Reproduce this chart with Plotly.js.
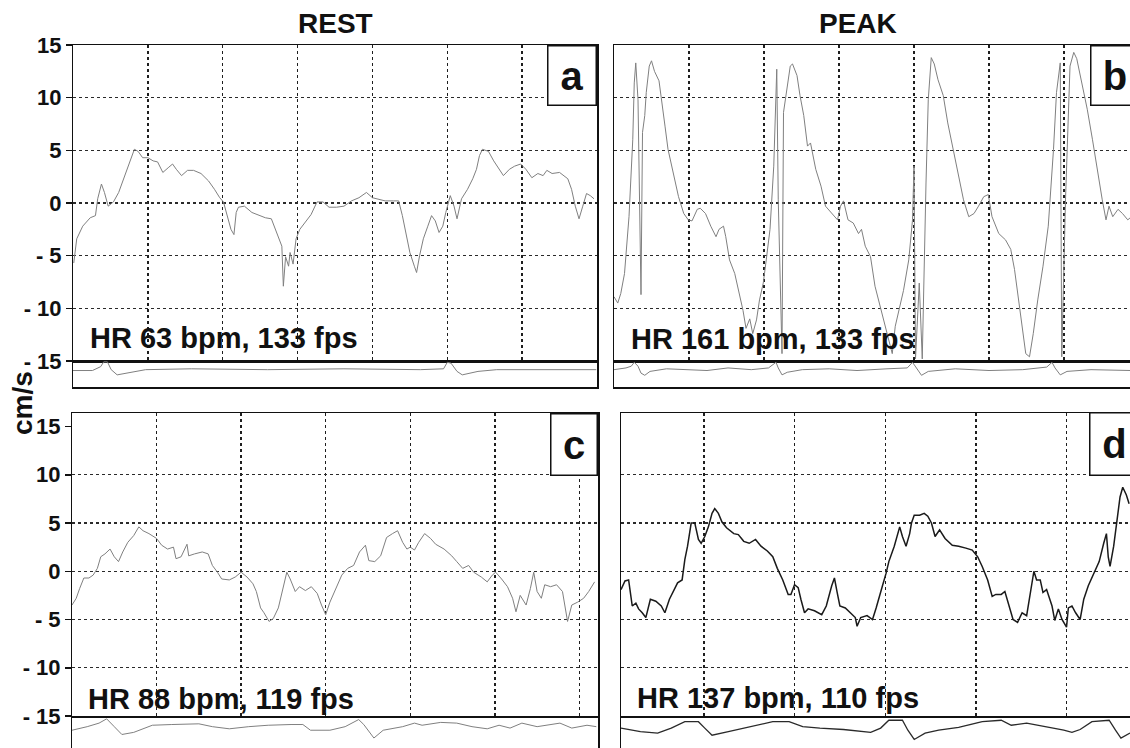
<!DOCTYPE html>
<html><head><meta charset="utf-8">
<script src="https://cdn.plot.ly/plotly-3.0.1.min.js"></script>
<style>html,body{margin:0;padding:0;background:#fff;overflow:hidden;} #chart{width:1130px;height:748px;}</style>
</head><body><div id="chart"></div>
<script>
// ---------------- data ----------------
const columnTitles = ['REST', 'PEAK'];
const panelLetters = ['a', 'b', 'c', 'd'];
const hrLabels = ['HR 63 bpm, 133 fps', 'HR 161 bpm, 133 fps', 'HR 88 bpm, 119 fps', 'HR 137 bpm, 110 fps'];
const yAxisTitle = 'cm/s';
const velocityTicks = [15, 10, 5, 0, -5, -10, -15];
const velocityTickText = ['15', '10', '5', '0', '- 5', '- 10', '- 15'];
const gridValues = [-10, -5, 0, 5, 10];

// panel a (rest, 63 bpm) - time in grid divisions, velocity in cm/s
const restA_t = [0.01,0.05,0.13,0.23,0.30,0.33,0.38,0.42,0.47,0.54,0.61,0.69,0.77,0.82,0.87,0.93,1.0,1.07,1.13,1.20,1.28,1.33,1.38,1.45,1.53,1.61,1.71,1.81,1.89,1.96,2.01,2.06,2.11,2.15,2.18,2.21,2.29,2.39,2.49,2.57,2.65,2.70,2.75,2.79,2.81,2.84,2.88,2.90,2.94,2.98,3.03,3.11,3.18,3.26,3.34,3.42,3.52,3.62,3.72,3.82,3.92,4.0,4.07,4.17,4.28,4.35,4.40,4.45,4.50,4.56,4.59,4.63,4.68,4.74,4.79,4.84,4.89,4.94,4.98,5.04,5.09,5.13,5.19,5.27,5.34,5.39,5.43,5.47,5.55,5.62,5.70,5.75,5.83,5.90,5.98,6.05,6.13,6.21,6.28,6.33,6.40,6.50,6.61,6.66,6.71,6.76,6.81,6.86,6.91,6.96];
const restA_v = [-5.7,-3.4,-2.2,-1.4,-1.2,0.4,1.8,1.0,-0.3,0.1,1.0,2.6,4.2,5.1,4.9,4.3,4.3,4.0,3.9,2.9,3.4,3.7,3.2,2.6,3.1,3.1,2.8,2.1,1.3,0.5,0.1,-1.2,-2.5,-3.0,-0.9,-0.4,-0.3,-0.9,-1.2,-1.4,-1.5,-2.5,-3.4,-4.1,-7.9,-5.1,-6.0,-4.7,-5.8,-3.4,-2.5,-1.8,-1.1,0.1,0.1,-0.4,-0.4,-0.3,0.2,0.5,1.0,0.5,0.4,0.2,0.2,0.2,-1.2,-2.8,-4.7,-6.0,-6.6,-5.0,-3.4,-2.2,-1.2,-1.7,-2.8,-2.2,-0.9,0.7,-0.3,-1.5,0.4,1.3,2.3,3.2,4.5,5.1,4.9,4.0,3.2,2.6,3.2,3.5,3.7,3.2,2.4,2.8,2.6,3.1,2.8,2.9,2.3,1.3,-0.3,-1.5,-0.3,0.9,0.7,0.4];

// panel b (peak, 161 bpm)
const peakB_t = [0,0.05,0.09,0.14,0.20,0.25,0.27,0.29,0.32,0.34,0.36,0.38,0.41,0.43,0.47,0.50,0.54,0.60,0.63,0.68,0.72,0.80,0.86,0.93,0.99,1.04,1.11,1.15,1.22,1.29,1.36,1.40,1.46,1.49,1.54,1.61,1.67,1.72,1.76,1.81,1.85,1.90,1.94,1.99,2.03,2.08,2.13,2.15,2.17,2.19,2.24,2.26,2.31,2.35,2.38,2.44,2.48,2.53,2.58,2.62,2.69,2.76,2.82,2.91,2.98,3.02,3.06,3.12,3.19,3.26,3.30,3.35,3.42,3.48,3.55,3.60,3.66,3.71,3.75,3.80,3.86,3.93,3.98,4.00,4.02,4.07,4.11,4.16,4.19,4.23,4.27,4.32,4.39,4.45,4.52,4.59,4.66,4.73,4.80,4.86,4.93,4.99,5.04,5.13,5.22,5.29,5.34,5.40,5.45,5.49,5.54,5.59,5.65,5.72,5.79,5.86,5.90,5.95,5.97,6.02,6.08,6.13,6.17,6.24,6.31,6.38,6.44,6.51,6.56,6.60,6.65,6.72,6.78,6.85,6.9];
const peakB_v = [-8.9,-9.5,-8.6,-6.7,-1.3,6.0,11.4,13.3,9.8,-2.2,-8.7,6.7,8.3,10.5,13.0,13.5,12.5,11.6,9.8,7.3,5.1,2.5,0.6,-1.0,-1.6,-1.7,-0.6,-0.5,-1.0,-2.2,-3.2,-2.5,-2.2,-3.2,-5.4,-6.7,-8.6,-10.2,-11.9,-11.0,-12.4,-11.1,-9.2,-7.6,-5.4,-2.5,3.5,8.9,12.7,0.3,-14.3,8.6,10.8,13.0,13.2,12.1,10.2,8.3,5.4,5.7,3.2,1.6,-0.3,-1.0,-1.6,-0.3,0.2,-1.6,-1.9,-2.9,-2.5,-4.1,-5.1,-7.9,-9.8,-11.1,-12.7,-14.3,-11.7,-10.2,-8.3,-5.4,-1.6,3.5,-14.8,-7.6,-14.8,1.9,9.8,13.8,13.2,11.7,10.2,7.6,5.1,2.9,0.3,-1.3,-1.0,-0.3,0.6,0.8,-1.3,-2.9,-3.5,-4.4,-6.3,-9.5,-12.4,-14.3,-14.6,-12.4,-9.2,-6.0,-2.2,5.1,10.5,13.3,-14.6,0.3,13.0,14.3,13.7,11.4,8.9,6.0,3.2,0.3,-1.6,-0.3,-1.3,-0.6,-1.0,-1.6,-1.3];

// panel c (rest, 88 bpm)
const restC_t = [0,0.05,0.09,0.14,0.20,0.25,0.30,0.34,0.39,0.45,0.50,0.55,0.60,0.66,0.73,0.79,0.84,0.91,1.0,1.06,1.13,1.20,1.23,1.29,1.36,1.38,1.45,1.54,1.61,1.66,1.72,1.77,1.86,1.93,2.0,2.07,2.14,2.18,2.23,2.27,2.33,2.38,2.44,2.49,2.54,2.58,2.64,2.69,2.76,2.83,2.90,2.95,3.0,3.05,3.12,3.19,3.26,3.33,3.40,3.47,3.51,3.58,3.65,3.72,3.79,3.85,3.91,3.96,4.0,4.05,4.10,4.17,4.24,4.30,4.40,4.49,4.55,4.62,4.69,4.75,4.84,4.91,4.97,5.01,5.08,5.15,5.21,5.25,5.30,5.37,5.42,5.46,5.50,5.55,5.59,5.66,5.73,5.80,5.86,5.91,5.98,6.05,6.11,6.18];
const restC_v = [-3.5,-2.8,-1.8,-0.7,-0.7,-0.4,0.3,1.5,1.8,2.3,1.5,1.0,2.0,3.0,3.7,4.6,4.2,3.9,3.4,2.7,2.3,2.5,1.3,1.5,2.8,1.6,1.8,2.0,1.8,0.6,-0.1,-0.8,-0.9,-0.6,-0.1,-0.6,-1.3,-2.1,-3.8,-4.3,-5.2,-4.9,-3.8,-1.8,-0.1,-0.8,-2.1,-1.6,-2.0,-1.6,-2.3,-3.5,-4.5,-3.2,-1.8,-0.4,0.3,0.6,2.0,2.7,1.1,1.0,1.6,3.5,3.9,4.2,3.0,2.3,2.5,2.2,3.0,3.9,3.4,2.8,2.3,1.6,1.0,0.3,0.6,-0.1,-0.6,-1.1,-0.4,-0.1,-0.8,-1.6,-2.8,-4.2,-2.5,-3.5,-1.8,-0.1,-2.1,-2.8,-1.4,-1.6,-1.4,-2.1,-5.2,-3.5,-3.2,-2.8,-2.1,-1.1];

// panel d (peak, 137 bpm)
const peakD_t = [0.086,0.13,0.17,0.21,0.25,0.28,0.32,0.36,0.41,0.47,0.53,0.57,0.62,0.66,0.71,0.76,0.79,0.82,0.86,0.90,0.94,0.97,1.01,1.05,1.09,1.12,1.16,1.20,1.25,1.33,1.38,1.44,1.50,1.57,1.63,1.70,1.76,1.81,1.87,1.93,1.96,2.0,2.04,2.07,2.11,2.15,2.22,2.30,2.35,2.41,2.44,2.47,2.50,2.56,2.62,2.67,2.69,2.73,2.80,2.86,2.90,2.93,2.97,3.01,3.04,3.10,3.14,3.16,3.19,3.23,3.27,3.29,3.32,3.38,3.43,3.47,3.51,3.55,3.60,3.66,3.74,3.81,3.89,3.96,4.02,4.07,4.13,4.18,4.22,4.28,4.32,4.37,4.41,4.46,4.51,4.56,4.59,4.64,4.67,4.71,4.74,4.78,4.84,4.87,4.91,4.95,5.0,5.02,5.06,5.10,5.15,5.19,5.24,5.30,5.36,5.41,5.44,5.46,5.48,5.52,5.55,5.59,5.62,5.66,5.69];
const peakD_v = [-1.9,-1.0,-0.9,-3.6,-3.3,-3.9,-4.3,-4.8,-2.9,-3.1,-3.6,-4.3,-2.9,-2.1,-1.2,-0.9,1.2,2.6,5.0,5.0,3.3,2.9,3.6,4.6,6.0,6.5,6.0,5.1,4.5,3.9,3.8,3.1,2.9,3.3,2.6,2.1,1.5,0.3,-0.9,-2.4,-2.4,-1.4,-1.7,-2.9,-4.3,-3.9,-4.1,-4.5,-3.6,-1.5,-0.7,-2.2,-3.6,-3.8,-4.3,-4.8,-5.7,-4.8,-4.6,-5.0,-3.8,-2.7,-1.5,-0.2,1.0,2.6,3.9,4.6,3.6,2.6,3.9,5.0,5.8,5.8,6.0,5.7,5.0,3.6,4.3,3.4,2.7,2.6,2.4,2.2,1.5,0.5,-0.9,-2.6,-2.4,-2.4,-2.1,-3.6,-5.0,-5.3,-4.3,-4.6,-2.9,0.0,-0.9,-0.9,-2.2,-1.9,-3.6,-5.1,-3.9,-5.0,-5.8,-3.8,-3.6,-4.3,-5.0,-2.9,-1.5,-0.3,1.0,2.9,3.9,1.5,0.5,2.6,4.6,7.7,8.7,7.9,7.0];

// ECG strips (arbitrary units, baseline 0)
const ecgA_t = [0,0.26,0.37,0.41,0.46,0.51,0.59,0.77,0.97,1.58,2.60,3.62,4.64,4.95,5.0,5.05,5.13,5.20,5.41,5.66,6.99];
const ecgA_v = [-0.2,-0.2,0.7,1.8,1.8,0,-1.2,-0.6,0,0.2,0,0.2,0,0.2,1.7,1.5,-0.4,-1.2,-0.4,0,0];
const ecgB_t = [0,0.16,0.23,0.27,0.32,0.36,0.41,0.48,0.70,0.97,1.24,1.52,1.83,2.06,2.13,2.16,2.19,2.24,2.31,2.51,2.87,3.24,3.64,3.91,3.98,4.03,4.10,4.19,4.55,5.0,5.45,5.77,5.84,5.88,5.95,6.04,6.36,6.9];
const ecgB_v = [0,0.4,0.8,1.7,0.8,-0.8,-1.3,-0.4,0.2,0,-0.2,0.4,0,0.4,1.4,1.7,0.4,-1.2,-0.6,0,0.2,-0.2,0.2,0.4,1.7,0.4,-1.3,-0.4,0.2,-0.2,0,0.6,1.7,0.4,-1.2,-0.4,0,-0.2];
const ecgC_t = [0,0.18,0.32,0.41,0.5,0.59,0.73,0.95,1.18,1.5,1.66,1.86,2.09,2.32,2.59,2.73,2.82,3.05,3.23,3.39,3.45,3.57,3.68,3.91,4.05,4.14,4.36,4.55,4.73,4.91,5.05,5.18,5.32,5.5,5.77,5.91,6.09,6.2];
const ecgC_v = [-0.5,0,0.5,1.1,0,-1.1,-0.8,0.2,0.3,0.4,0,-0.3,0,0.2,0.3,0.3,-0.5,-0.5,0,1.0,0.3,-1.6,-0.5,0,0.5,0.2,0.6,0.5,0,-0.3,0.2,-0.2,0.5,0,0.5,-0.2,0.2,0];
const ecgD_t = [0.086,0.30,0.49,0.64,0.79,0.94,1.01,1.09,1.27,1.53,1.76,1.94,2.09,2.28,2.54,2.84,2.95,3.04,3.19,3.25,3.32,3.44,3.59,3.81,4.07,4.28,4.39,4.56,4.78,4.97,5.06,5.15,5.28,5.47,5.54,5.60,5.70];
const ecgD_v = [-0.2,-0.7,-0.9,-0.2,0.7,0.7,-0.2,-1.2,-0.7,0,0.7,0.7,0,-0.2,-0.4,-0.8,-0.2,0.9,0.9,-0.5,-1.8,-0.9,-0.5,-0.1,0.7,0.9,0.2,0.5,0,-0.5,-0.8,-0.4,0.7,0.9,-0.5,-1.6,-0.9];

// ---------------- layout helpers ----------------
const W = 1130, H = 748;
const fx = p => p / W;
const fy = p => 1 - p / H;
const FONT = '"Liberation Sans", Arial, Helvetica, sans-serif';
const INK = '#111';
const TRACE_GRAY = '#808080';

function lineTrace(x, y, xa, ya, color, width) {
  return {x: x, y: y, xaxis: xa, yaxis: ya, type: 'scatter', mode: 'lines',
          line: {color: color, width: width}, hoverinfo: 'skip', showlegend: false};
}
function axisHolder(xa, ya) {
  // empty trace so that the tick-label axis is registered as a subplot
  return {x: [], y: [], xaxis: xa, yaxis: ya, type: 'scatter', mode: 'lines',
          hoverinfo: 'skip', showlegend: false};
}

const traces = [
  lineTrace(restA_t, restA_v, 'x', 'y', TRACE_GRAY, 1),
  lineTrace(ecgA_t, ecgA_v, 'x2', 'y2', TRACE_GRAY, 1),
  lineTrace(peakB_t, peakB_v, 'x3', 'y3', TRACE_GRAY, 1),
  lineTrace(ecgB_t, ecgB_v, 'x4', 'y4', TRACE_GRAY, 1),
  lineTrace(restC_t, restC_v, 'x5', 'y5', TRACE_GRAY, 1),
  lineTrace(ecgC_t, ecgC_v, 'x6', 'y6', TRACE_GRAY, 1),
  lineTrace(peakD_t, peakD_v, 'x7', 'y7', '#1a1a1a', 1.5),
  lineTrace(ecgD_t, ecgD_v, 'x8', 'y8', '#2a2a2a', 1.3),
  axisHolder('x', 'y9'),
  axisHolder('x5', 'y10')
];

function xMain(domain, range, anchor, gridStart, gridEnd) {
  const vals = [];
  for (let g = gridStart; g <= gridEnd; g++) vals.push(g);
  return {domain: domain, range: range, anchor: anchor, tickmode: 'array', tickvals: vals,
          showticklabels: false, ticks: '', showgrid: true, gridcolor: '#1e1e1e', gridwidth: 1.4,
          griddash: 'dot', zeroline: false, showline: true, mirror: true, linecolor: INK,
          linewidth: 1.5, fixedrange: true};
}
function yMain(domain, range, anchor, mirror) {
  return {domain: domain, range: range, anchor: anchor, tickmode: 'array', tickvals: gridValues,
          showticklabels: false, ticks: '', showgrid: true, gridcolor: '#2a2a2a', gridwidth: 1.1,
          griddash: 'dot', zeroline: false, showline: true, mirror: mirror, linecolor: INK,
          linewidth: 1.5, fixedrange: true};
}
function yLabels(over, anchor, range) {
  return {overlaying: over, anchor: anchor, range: range, side: 'left', tickmode: 'array',
          tickvals: velocityTicks, ticktext: velocityTickText.map(t => '<b>' + t + '</b>'),
          ticks: 'outside', ticklen: 6,
          tickwidth: 1.5, tickcolor: INK, showgrid: false, zeroline: false, showline: false,
          showticklabels: true,
          tickfont: {family: FONT, size: 22, color: INK}, fixedrange: true};
}
function xStrip(domain, range, anchor, showline) {
  return {domain: domain, range: range, anchor: anchor, showticklabels: false, ticks: '',
          showgrid: false, zeroline: false, showline: showline, mirror: true, linecolor: INK,
          linewidth: 1.5, fixedrange: true};
}
function yStrip(domain, range, anchor, mirror) {
  return {domain: domain, range: range, anchor: anchor, showticklabels: false, ticks: '',
          showgrid: false, zeroline: false, showline: true, mirror: mirror, linecolor: INK,
          linewidth: 1.5, fixedrange: true};
}

const colAx = [fx(73), fx(597)];
const colBx = [fx(614), 1];
const colCx = [fx(72), fx(598)];
const colDx = [fx(621), 1];
const topMainY = [fy(361), fy(45)];
const topStripY = [fy(387), fy(361)];
const botMainY = [fy(716), fy(413)];
const botStripY = [0, fy(716)];
const topRange = [-15, 15];
const botRange = [-15, 16.4];

function letterBox(letter, xRight, yTop, w, h) {
  return {xref: 'paper', yref: 'paper', x: fx(xRight), y: fy(yTop), xanchor: 'right', yanchor: 'top',
          text: letter, showarrow: false, font: {family: FONT, size: 40, color: INK, weight: 'bold'},
          bordercolor: INK, borderwidth: 1.5, borderpad: 0, bgcolor: '#fff', width: w, height: h,
          align: 'center', valign: 'middle'};
}
function plainText(text, x, y, xanchor, size, angle) {
  return {xref: 'paper', yref: 'paper', x: fx(x), y: fy(y), xanchor: xanchor, yanchor: 'middle',
          text: text, showarrow: false, textangle: angle || 0,
          font: {family: FONT, size: size, color: INK, weight: 'bold'}};
}

const layout = {
  width: W, height: H, margin: {l: 0, r: 0, t: 0, b: 0, pad: 0},
  paper_bgcolor: '#fff', plot_bgcolor: 'rgba(0,0,0,0)', showlegend: false,
  xaxis: xMain(colAx, [0, 7], 'y', 1, 6),
  yaxis: yMain(topMainY, topRange, 'x', true),
  xaxis2: xStrip(colAx, [0, 7], 'y2', true),
  yaxis2: yStrip(topStripY, [-4, 2], 'x2', true),
  xaxis3: xMain(colBx, [0, 6.88], 'y3', 1, 6),
  yaxis3: yMain(topMainY, topRange, 'x3', false),
  xaxis4: xStrip(colBx, [0, 6.88], 'y4', true),
  yaxis4: yStrip(topStripY, [-4, 2], 'x4', false),
  xaxis5: xMain(colCx, [0, 6.22], 'y5', 1, 6),
  yaxis5: yMain(botMainY, botRange, 'x5', true),
  xaxis6: xStrip(colCx, [0, 6.22], 'y6', false),
  yaxis6: yStrip(botStripY, [-3, 1.5], 'x6', true),
  xaxis7: xMain(colDx, [0.086, 5.70], 'y7', 1, 5),
  yaxis7: yMain(botMainY, botRange, 'x7', false),
  xaxis8: xStrip(colDx, [0.086, 5.70], 'y8', false),
  yaxis8: yStrip(botStripY, [-3, 1.5], 'x8', false),
  yaxis9: yLabels('y', 'x', topRange),
  yaxis10: yLabels('y5', 'x5', botRange),
  annotations: [
    plainText(columnTitles[0], 335, 23, 'center', 28),
    plainText(columnTitles[1], 858, 23, 'center', 28),
    plainText(yAxisTitle, 22, 403, 'center', 28, -90),
    plainText(hrLabels[0], 88, 338, 'left', 29),
    plainText(hrLabels[1], 629, 339, 'left', 29),
    plainText(hrLabels[2], 86, 699, 'left', 29),
    plainText(hrLabels[3], 635, 698, 'left', 29),
    letterBox(panelLetters[0], 597, 45, 47, 58),
    letterBox(panelLetters[1], 1140, 45, 47, 58),
    letterBox(panelLetters[2], 598, 413, 45, 60),
    letterBox(panelLetters[3], 1140, 412, 48, 61)
  ]
};

Plotly.newPlot('chart', traces, layout, {displayModeBar: false, staticPlot: true});
</script>
</body></html>
